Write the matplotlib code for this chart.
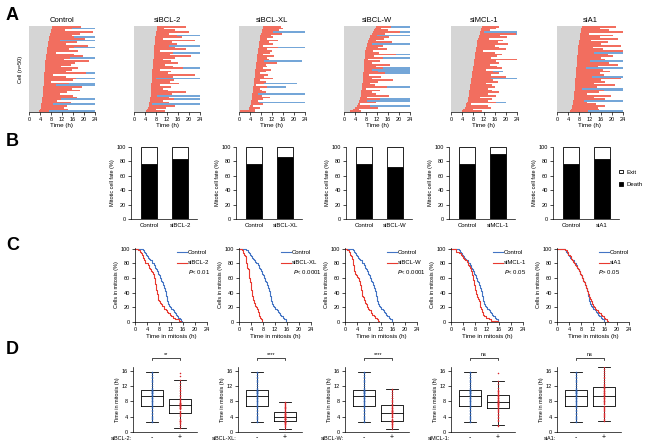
import numpy as np
import matplotlib.pyplot as plt
from matplotlib.patches import Patch

plt.rcParams.update({
    'font.family': ['Liberation Sans', 'DejaVu Sans'],
    'font.size': 4,
    'axes.linewidth': 0.5,
    'xtick.major.width': 0.5,
    'ytick.major.width': 0.5,
    'xtick.major.size': 2,
    'ytick.major.size': 2,
    'xtick.major.pad': 1.5,
    'ytick.major.pad': 1.5,
    'axes.labelpad': 1.5,
})

# ======================
# Data
# ======================
conditions = ['Control', 'siBCL-2', 'siBCL-XL', 'siBCL-W', 'siMCL-1', 'siA1']
p_texts = ['< 0.01', '< 0.0001', '< 0.0001', '< 0.05', '> 0.05']
sig_labels = ['**', '****', '****', 'ns', 'ns']

# mitotic entry time (h), rows bottom -> top
entry_ctrl = [3.6, 4.0, 4.2, 4.4, 4.5, 4.6, 4.7, 4.8, 4.9, 5.0,
              5.0, 5.1, 5.1, 5.2, 5.2, 5.3, 5.3, 5.4, 5.4, 5.5,
              5.5, 5.6, 5.6, 5.7, 5.7, 5.8, 5.8, 5.9, 6.0, 6.0,
              6.1, 6.2, 6.2, 6.3, 6.4, 6.5, 6.6, 6.7, 6.8, 6.9,
              7.0, 7.1, 7.2, 7.3, 7.5, 7.7, 7.9, 8.1, 8.3, 8.5]
entry_bcl2 = [4.4, 4.8, 5.2, 5.4, 5.5, 5.6, 5.7, 5.8, 5.9, 6.0,
              6.0, 6.1, 6.1, 6.2, 6.2, 6.3, 6.3, 6.4, 6.4, 6.5,
              6.5, 6.6, 6.6, 6.7, 6.7, 6.8, 6.8, 6.9, 6.9, 7.0,
              7.0, 7.1, 7.1, 7.2, 7.2, 7.3, 7.3, 7.4, 7.4, 7.5,
              7.5, 7.6, 7.7, 7.8, 7.9, 8.0, 8.1, 8.2, 8.3, 8.4]
entry_bclxl = [0.3, 3.5, 3.8, 4.0, 4.2, 4.4, 4.5, 4.6, 4.7, 4.8,
               4.9, 5.0, 5.0, 5.1, 5.2, 5.3, 5.4, 5.5, 5.5, 5.6,
               5.7, 5.8, 5.9, 6.0, 6.0, 6.1, 6.2, 6.3, 6.3, 6.4,
               6.5, 6.6, 6.6, 6.7, 6.8, 6.9, 7.0, 7.1, 7.2, 7.3,
               7.4, 7.5, 7.6, 7.7, 7.8, 8.0, 8.2, 8.4, 8.6, 8.8]
entry_bclw = [2.0, 3.2, 4.0, 4.6, 5.0, 5.3, 5.5, 5.7, 5.9, 6.0,
              6.1, 6.2, 6.3, 6.4, 6.5, 6.6, 6.7, 6.8, 6.8, 6.9,
              6.9, 7.0, 7.0, 7.1, 7.1, 7.2, 7.2, 7.3, 7.3, 7.4,
              7.4, 7.5, 7.5, 7.6, 7.7, 7.8, 7.9, 8.0, 8.2, 8.4,
              8.6, 8.8, 9.0, 9.3, 9.6, 10.0, 10.4, 10.8, 11.2, 11.6]
entry_mcl1 = [3.9, 4.5, 5.0, 5.3, 5.6, 5.8, 6.0, 6.1, 6.2, 6.4,
              6.5, 6.6, 6.7, 6.8, 6.9, 7.0, 7.1, 7.2, 7.3, 7.4,
              7.5, 7.6, 7.7, 7.8, 7.9, 8.0, 8.1, 8.2, 8.3, 8.4,
              8.5, 8.6, 8.7, 8.8, 8.9, 9.0, 9.1, 9.2, 9.3, 9.4,
              9.5, 9.6, 9.8, 10.0, 10.2, 10.4, 10.6, 10.8, 11.0, 11.2]
entry_a1 = [4.8, 5.2, 5.4, 5.6, 5.7, 5.8, 5.9, 6.0, 6.1, 6.2,
            6.3, 6.3, 6.4, 6.4, 6.5, 6.5, 6.6, 6.6, 6.7, 6.7,
            6.8, 6.8, 6.9, 6.9, 7.0, 7.0, 7.1, 7.1, 7.2, 7.2,
            7.3, 7.3, 7.4, 7.5, 7.5, 7.6, 7.7, 7.7, 7.8, 7.9,
            8.0, 8.1, 8.2, 8.3, 8.4, 8.5, 8.6, 8.7, 8.9, 9.1]

# time in mitosis (h), same row order
dur_ctrl = [3.7, 10.2, 8.4, 9.6, 4.3, 10.8, 5.5, 7.0, 12.5, 11.0,
            6.2, 8.8, 13.3, 10.4, 14.0, 4.7, 9.2, 2.5, 10.6, 11.5,
            8.0, 3.0, 15.0, 7.6, 10.0, 12.0, 5.8, 9.4, 10.9, 15.7,
            6.8, 8.6, 13.6, 10.1, 3.3, 11.2, 7.8, 9.8, 14.5, 6.5,
            10.3, 4.0, 13.0, 9.0, 8.2, 10.7, 15.5, 5.0, 7.3, 10.5]
dur_bcl2 = [7.0, 3.2, 6.4, 9.5, 1.0, 7.3, 5.0, 8.6, 6.8, 2.3,
            7.7, 12.8, 6.2, 4.5, 7.1, 3.0, 10.2, 6.6, 8.0, 1.5,
            7.5, 15.4, 5.6, 6.9, 2.8, 11.0, 7.2, 4.2, 9.0, 6.5,
            3.4, 7.8, 13.5, 6.0, 7.0, 2.0, 11.5, 7.4, 5.3, 8.3,
            6.3, 14.6, 3.0, 9.8, 7.6, 4.8, 12.0, 6.7, 2.6, 10.6]
dur_bclxl = [5.5, 2.4, 3.9, 1.2, 4.4, 3.0, 2.5, 4.0, 6.4, 3.4,
             2.0, 4.8, 3.5, 2.7, 5.0, 0.9, 3.7, 4.2, 2.3, 6.8,
             3.3, 4.6, 1.8, 3.9, 5.8, 2.6, 4.1, 3.6, 7.5, 2.8,
             4.5, 3.4, 6.0, 2.2, 4.3, 5.2, 3.2, 7.0, 1.5, 4.9,
             3.5, 6.5, 2.5, 4.7, 3.8, 7.8, 4.0, 6.2, 7.3, 6.6]
dur_bclw = [4.0, 2.2, 8.5, 5.0, 0.8, 6.2, 3.0, 7.4, 2.6, 10.5,
            5.4, 3.8, 6.8, 1.5, 9.0, 4.7, 2.9, 5.7, 11.0, 3.2,
            6.4, 2.0, 8.0, 5.2, 3.1, 7.0, 4.5, 9.5, 2.7, 5.8,
            1.2, 6.6, 3.3, 11.3, 5.0, 2.8, 7.8, 4.2, 6.0, 1.8,
            8.8, 3.0, 5.5, 7.2, 2.5, 4.9, 10.0, 5.3, 2.4, 5.6]
dur_mcl1 = [7.3, 3.6, 9.5, 8.1, 1.8, 10.4, 7.6, 8.8, 4.4, 9.8,
            7.0, 11.0, 8.3, 6.6, 9.2, 7.8, 5.5, 10.0, 8.0, 7.2,
            12.5, 6.9, 9.6, 7.4, 4.8, 10.6, 8.6, 6.0, 9.0, 7.9,
            15.5, 5.8, 8.2, 9.7, 7.1, 2.8, 10.8, 8.4, 6.8, 11.5,
            7.7, 9.4, 4.0, 10.2, 7.5, 13.3, 1.5, 3.2, 5.2, 6.3]
dur_a1 = [6.4, 10.2, 9.6, 12.0, 8.4, 5.0, 3.8, 11.4, 7.5, 13.5,
          4.5, 9.0, 10.8, 2.8, 8.0, 14.5, 6.9, 11.0, 9.4, 16.5,
          5.8, 10.4, 8.6, 12.5, 9.8, 3.5, 7.8, 15.0, 11.6, 4.8,
          10.0, 8.8, 13.0, 11.2, 6.1, 17.0, 9.2, 5.4, 15.5, 8.2,
          10.6, 4.2, 14.0, 7.2, 11.8, 3.2, 16.0, 10.1, 6.6, 12.2]

# cells that exit mitosis: row index and end of tracking (h)
exit_rows_ctrl = [0, 4, 7, 15, 16, 19, 22, 31, 37, 41, 43, 48]
exit_end_ctrl = [24, 24, 24, 24, 24, 24, 24, 24, 24, 24, 24, 24]
exit_rows_bcl2 = [4, 7, 9, 19, 25, 34, 38, 44]
exit_end_bcl2 = [24, 24, 24, 24, 24, 24, 24, 24]
exit_rows_bclxl = [5, 10, 14, 16, 29, 37, 46]
exit_end_bclxl = [24, 24, 17, 21, 23, 24, 24]
exit_rows_bclw = [3, 6, 7, 14, 22, 23, 24, 25, 31, 33, 39, 44, 46, 49]
exit_end_bclw = [24, 24, 24, 24, 24, 24, 24, 24, 24, 24, 24, 24, 24, 24]
exit_rows_mcl1 = [5, 19, 23, 45, 46]
exit_end_mcl1 = [20, 24, 19, 24, 24]
exit_rows_a1 = [0, 6, 12, 13, 20, 25, 29, 34]
exit_end_a1 = [24, 24, 24, 24, 24, 24, 24, 24]

entries = [entry_ctrl, entry_bcl2, entry_bclxl, entry_bclw, entry_mcl1, entry_a1]
durations = [dur_ctrl, dur_bcl2, dur_bclxl, dur_bclw, dur_mcl1, dur_a1]
exit_rows = [exit_rows_ctrl, exit_rows_bcl2, exit_rows_bclxl, exit_rows_bclw, exit_rows_mcl1, exit_rows_a1]
exit_ends = [exit_end_ctrl, exit_end_bcl2, exit_end_bclxl, exit_end_bclw, exit_end_mcl1, exit_end_a1]

# ======================
# Style
# ======================
W, H = 648, 446
fig = plt.figure(figsize=(W / 100, H / 100), dpi=100)

gray = '#d5d5d5'
red_bar = '#f26e5f'
blue_bar = '#74a6d8'
blue_line = '#4374c4'
red_line = '#e8392f'
blue_dot = '#2d5fae'
red_dot = '#d8272b'


def px_axes(left, top, width, height):
    return fig.add_axes([left / W, 1 - (top + height) / H, width / W, height / H])


def clean(ax):
    ax.spines['top'].set_visible(False)
    ax.spines['right'].set_visible(False)


# ======================
# A: single-cell fate profiles
# ======================
a_left = [29, 134, 239, 344, 451, 557]
for i, name in enumerate(conditions):
    ax = px_axes(a_left[i], 26, 66, 86)
    ent = np.array(entries[i])
    dur = np.array(durations[i])
    rows = np.arange(len(ent))
    ax.barh(rows, ent, height=1, color=gray, lw=0)
    ax.barh(rows, dur, left=ent, height=1, color=red_bar, lw=0)
    er = np.array(exit_rows[i])
    start = ent[er] + dur[er]
    ax.barh(er, np.array(exit_ends[i]) - start, left=start, height=1, color=blue_bar, lw=0)
    ax.set_xlim(0, 24)
    ax.set_ylim(-0.5, len(ent) - 0.5)
    ax.set_xticks(range(0, 25, 4))
    ax.set_yticks([])
    for s in ['top', 'right', 'left']:
        ax.spines[s].set_visible(False)
    ax.set_xlabel('Time (h)', fontsize=4.5, labelpad=0.5)
    ax.set_title(name, fontsize=5.5, pad=3)
    if i == 0:
        ax.set_ylabel('Cell (n=50)', fontsize=4, labelpad=4)

# ======================
# B: mitotic cell fate
# ======================
n_cells = len(entry_ctrl)
death_ctrl = 100 * (1 - len(exit_rows_ctrl) / n_cells)
b_left = [131, 236, 346, 449, 553]
for j in range(5):
    ax = px_axes(b_left[j], 147, 66, 72)
    death = [death_ctrl, 100 * (1 - len(exit_rows[j + 1]) / n_cells)]
    x = [0, 1]
    ax.bar(x, death, width=0.52, color='black', edgecolor='black', lw=0.6)
    ax.bar(x, [100 - d for d in death], bottom=death, width=0.52,
           color='white', edgecolor='black', lw=0.6)
    ax.set_xlim(-0.6, 1.55)
    ax.set_ylim(0, 100)
    ax.set_yticks(range(0, 101, 20))
    ax.set_xticks(x)
    ax.set_xticklabels(['Control', conditions[j + 1]], fontsize=4.3)
    ax.tick_params(axis='x', length=0, pad=3)
    ax.set_ylabel('Mitotic cell fate (%)', fontsize=4)
    clean(ax)
    if j == 4:
        handles = [Patch(facecolor='white', edgecolor='black', lw=0.6, label='Exit'),
                   Patch(facecolor='black', edgecolor='black', lw=0.6, label='Death')]
        ax.legend(handles=handles, loc='upper left', bbox_to_anchor=(0.97, 0.72),
                  frameon=False, fontsize=4.3, handlelength=0.6, handleheight=0.6,
                  handletextpad=0.6, labelspacing=1.3, borderaxespad=0)

# ======================
# C: cumulative time in mitosis
# ======================
def survival(d):
    d = np.sort(np.array(d))
    n = len(d)
    xs = np.concatenate([[0], d])
    ys = 100 * np.concatenate([[n], n - np.arange(1, n + 1)]) / n
    return xs, ys


c_left = [135, 239, 345, 451, 557]
p_x = [0.74, 0.75, 0.72, 0.74, 0.57]
for j in range(5):
    ax = px_axes(c_left[j], 248, 72, 74)
    xs, ys = survival(dur_ctrl)
    ax.step(xs, ys, where='post', color=blue_line, lw=0.8)
    xs, ys = survival(durations[j + 1])
    ax.step(xs, ys, where='post', color=red_line, lw=0.8)
    ax.set_xlim(0, 24)
    ax.set_ylim(0, 101)
    ax.set_xticks(range(0, 25, 4))
    ax.set_yticks(range(0, 101, 20))
    ax.set_xlabel('Time in mitosis (h)', fontsize=4.5)
    ax.set_ylabel('Cells in mitosis (%)', fontsize=4)
    clean(ax)
    # legend drawn in axes coordinates
    for yk, col, lab in [(0.94, blue_line, 'Control'), (0.80, red_line, conditions[j + 1])]:
        ax.plot([0.58, 0.72], [yk, yk], color=col, lw=0.8, transform=ax.transAxes,
                clip_on=False)
        ax.text(0.735, yk, lab, transform=ax.transAxes, va='center', ha='left',
                fontsize=4.3)
    ax.text(p_x[j], 0.67, r'$\it{P}$' + p_texts[j], transform=ax.transAxes,
            fontsize=4.3, va='center', ha='left')

# ======================
# D: time in mitosis box plots
# ======================
d_left = [133, 238, 345, 451, 557]
for j in range(5):
    ax = px_axes(d_left[j], 367, 64, 65)
    data = [dur_ctrl, durations[j + 1]]
    ax.boxplot(data, positions=[1, 2], widths=0.8, whis=1.5, showfliers=False,
               boxprops=dict(lw=0.6), whiskerprops=dict(lw=0.6),
               capprops=dict(lw=0.6), medianprops=dict(color='black', lw=0.6))
    ax.plot(np.full(len(dur_ctrl), 1.0), dur_ctrl, 'o', ms=1.1, color=blue_dot,
            mew=0, zorder=3)
    ax.plot(np.full(len(durations[j + 1]), 2.0), durations[j + 1], 'o', ms=1.1,
            color=red_dot, mew=0, zorder=3)
    ax.set_xlim(0.32, 2.61)
    ax.set_ylim(0, 17)
    ax.set_yticks(range(0, 17, 4))
    ax.set_xticks([1, 2])
    ax.set_xticklabels(['-', '+'], fontsize=5)
    ax.tick_params(axis='x', length=0, pad=1.5)
    ax.set_ylabel('Time in mitosis (h)', fontsize=4)
    clean(ax)
    ax.text(-0.02, -0.105, conditions[j + 1] + ':', transform=ax.transAxes,
            ha='right', va='center', fontsize=4)
    yb = 19.3
    ax.plot([1, 1, 2, 2], [yb - 0.4, yb, yb, yb - 0.4], color='black', lw=0.5,
            clip_on=False)
    ax.text(1.5, yb + 0.2, sig_labels[j], ha='center', va='bottom', fontsize=4)

# panel letters
for letter, ytop in zip('ABCD', [7, 133, 237, 341]):
    fig.text(6 / W, 1 - ytop / H, letter, fontsize=13, fontweight='bold',
             va='top', ha='left')

fig.savefig('out.png', dpi=100)
